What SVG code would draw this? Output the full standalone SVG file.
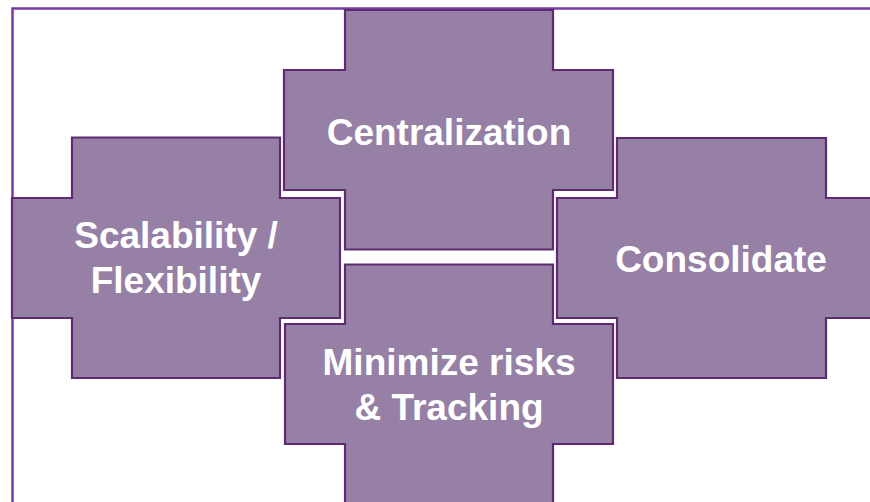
<svg xmlns="http://www.w3.org/2000/svg" width="870" height="502" viewBox="0 0 870 502">
<style>
.frame{fill:none;stroke:#7a3aa3;stroke-width:2.5}
.cross{fill:#9680a6;stroke:#5e2a72;stroke-width:2.2;stroke-linejoin:miter}
.lbl{font-family:"Liberation Sans",Arial,sans-serif;font-weight:bold;font-size:37px;fill:#ffffff;text-anchor:middle}
</style>
<rect width="870" height="502" fill="#ffffff"/>
<rect class="frame" x="12.5" y="8.5" width="900" height="540"/>
<g id="scalability">
<path class="cross" d="M72 137.5 H280 V198 H340 V318 H280 V378 H72 V318 H12 V198 H72 Z"/>
<text class="lbl" x="176" y="248">Scalability /</text>
<text class="lbl" x="176" y="293">Flexibility</text>
</g>
<g id="centralization">
<path class="cross" d="M345 10 H553 V70 H613 V190 H553 V249.5 H345 V190 H284 V70 H345 Z"/>
<text class="lbl" x="449" y="145">Centralization</text>
</g>
<g id="consolidate">
<path class="cross" d="M617 138 H826 V198 H886 V318 H826 V378 H617 V318 H557 V198 H617 Z"/>
<text class="lbl" x="721" y="272">Consolidate</text>
</g>
<g id="minimize">
<path class="cross" d="M345 264.5 H553 V324 H613 V444 H553 V520 H345 V444 H285 V324 H345 Z"/>
<text class="lbl" x="449" y="375">Minimize risks</text>
<text class="lbl" x="449" y="420">&amp; Tracking</text>
</g>
<g id="connectors"/>
</svg>
